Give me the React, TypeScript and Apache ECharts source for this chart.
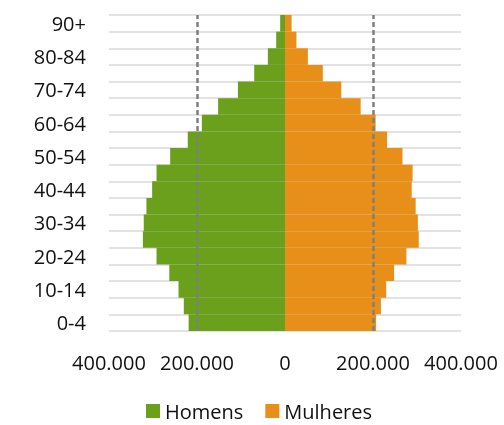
import React, { useEffect, useRef } from "react";
import * as echarts from "echarts";

const ageGroups = [
  "0-4", "5-9", "10-14", "15-19", "20-24", "25-29", "30-34", "35-39", "40-44",
  "45-49", "50-54", "55-59", "60-64", "65-69", "70-74", "75-79", "80-84", "85-89", "90+",
];
// Homens (shown to the left)
const homens = [
  219000, 230000, 242000, 263000, 292000, 323000, 321000, 315000, 302000,
  292000, 261000, 221000, 189000, 152000, 107000, 70000, 39000, 20000, 11000,
];
// Mulheres (shown to the right)
const mulheres = [
  207000, 218000, 230000, 248000, 276000, 304000, 302000, 297000, 288000,
  290000, 267000, 232000, 206000, 172000, 128000, 86000, 52000, 26000, 15000,
];
const referenceLines = [-200000, 200000];
const xTicks = { min: -400000, max: 400000, interval: 200000 };

const fmt = (v: number) =>
  Math.abs(v)
    .toFixed(0)
    .replace(/\B(?=(\d{3})+(?!\d))/g, ".");

export default function App() {
  const ref = useRef<HTMLDivElement>(null);
  useEffect(() => {
    if (!ref.current) return;
    const chart = echarts.init(ref.current, undefined, { renderer: "svg" });
    const font = "'Open Sans', sans-serif";
    chart.setOption({
      animation: false,
      textStyle: { fontFamily: font },
      grid: { left: 109, right: 43, top: 15, bottom: 94, containLabel: false },
      legend: {
        left: 146,
        top: 401,
        padding: 0,
        icon: "rect",
        itemWidth: 14,
        itemHeight: 14,
        itemGap: 22,
        textStyle: { fontSize: 20, color: "#111", fontFamily: font },
        data: ["Homens", "Mulheres"],
      },
      xAxis: {
        type: "value",
        min: xTicks.min,
        max: xTicks.max,
        interval: xTicks.interval,
        axisLine: { show: false },
        axisTick: { show: false },
        splitLine: { show: false },
        axisLabel: {
          fontSize: 20,
          color: "#111",
          margin: 21,
          fontFamily: font,
          formatter: (v: number) => fmt(v),
        },
      },
      yAxis: {
        type: "category",
        data: ageGroups,
        axisTick: { show: false },
        axisLine: { show: true, onZero: true, lineStyle: { color: "#d9d9d9", width: 1.5 } },
        axisLabel: {
          interval: 1,
          fontSize: 20,
          color: "#111",
          margin: 23,
          fontFamily: font,
        },
        splitLine: {
          show: true,
          interval: 0,
          lineStyle: { color: "#d9d9d9", width: 1.5 },
        },
      },
      series: [
        {
          name: "Homens",
          type: "bar",
          stack: "pop",
          barCategoryGap: 0,
          barWidth: "100%",
          itemStyle: { color: "#6BA01D" },
          data: homens.map((v) => -v),
          markLine: {
            silent: true,
            symbol: "none",
            label: { show: false },
            lineStyle: { color: "#7f7f7f", width: 2.5, type: [5, 3] },
            data: referenceLines.map((x) => ({ xAxis: x })),
          },
          z: 2,
        },
        {
          name: "Mulheres",
          type: "bar",
          stack: "pop",
          barCategoryGap: 0,
          barWidth: "100%",
          itemStyle: { color: "#E88F1A" },
          data: mulheres,
          z: 2,
        },
      ],
    });
    return () => chart.dispose();
  }, []);
  return (
    <div
      ref={ref}
      style={{ position: "fixed", left: 0, top: 0, width: 504, height: 425 }}
    />
  );
}
